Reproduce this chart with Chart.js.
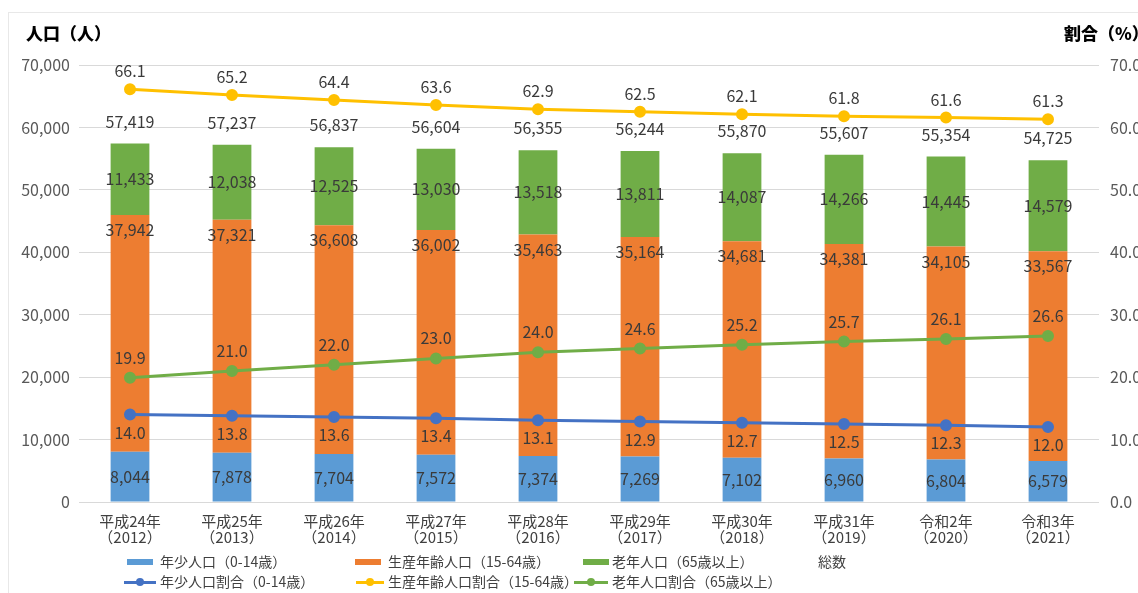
<!DOCTYPE html>
<html lang="ja">
<head>
<meta charset="utf-8">
<script src="https://cdn.jsdelivr.net/npm/chart.js@4.4.1/dist/chart.umd.min.js"></script>
<style>
  html, body { margin: 0; padding: 0; background: #fff; overflow: hidden; width: 1138px; height: 593px; }
  #wrap { position: relative; width: 1138px; height: 593px; overflow: hidden; }
  #cv { position: absolute; left: 0; top: 0; }
  #frame { position: absolute; left: 8px; top: 12px; width: 1200px; height: 600px; border: 1px solid #e8e8e8; box-sizing: border-box; pointer-events: none; }
  .title { position: absolute; font-family: "Noto Sans CJK JP", sans-serif; font-weight: 900; font-size: 17px; color: #000; white-space: nowrap; line-height: 1; }
  .lg { position: absolute; font-family: "Noto Sans CJK JP", sans-serif; font-size: 14px; color: #404040; white-space: nowrap; line-height: 1; }
  .sym { position: absolute; }
</style>
</head>
<body>
<div id="wrap">
  <canvas id="cv" width="1160" height="593" style="width:1160px;height:593px"></canvas>
  <div id="frame"></div>
  <div class="title" style="left:26px; top:24px;">人口（人）</div>
  <div class="title" style="left:1064px; top:24px;">割合（%）</div>
  <div id="legend"></div>
</div>
<script>
const categories = [
  ["平成24年", "（2012）"], ["平成25年", "（2013）"], ["平成26年", "（2014）"],
  ["平成27年", "（2015）"], ["平成28年", "（2016）"], ["平成29年", "（2017）"],
  ["平成30年", "（2018）"], ["平成31年", "（2019）"], ["令和2年", "（2020）"],
  ["令和3年", "（2021）"]
];
const youngPop   = [8044, 7878, 7704, 7572, 7374, 7269, 7102, 6960, 6804, 6579];
const workingPop = [37942, 37321, 36608, 36002, 35463, 35164, 34681, 34381, 34105, 33567];
const oldPop     = [11433, 12038, 12525, 13030, 13518, 13811, 14087, 14266, 14445, 14579];
const totalPop   = [57419, 57237, 56837, 56604, 56355, 56244, 55870, 55607, 55354, 54725];
const youngPct   = [14.0, 13.8, 13.6, 13.4, 13.1, 12.9, 12.7, 12.5, 12.3, 12.0];
const workingPct = [66.1, 65.2, 64.4, 63.6, 62.9, 62.5, 62.1, 61.8, 61.6, 61.3];
const oldPct     = [19.9, 21.0, 22.0, 23.0, 24.0, 24.6, 25.2, 25.7, 26.1, 26.6];

const legendNames = {
  young: "年少人口（0-14歳）",
  working: "生産年齢人口（15-64歳）",
  old: "老年人口（65歳以上）",
  total: "総数",
  youngPct: "年少人口割合（0-14歳）",
  workingPct: "生産年齢人口割合（15-64歳）",
  oldPct: "老年人口割合（65歳以上）"
};

const C_BLUE = "#5B9BD5", C_ORANGE = "#ED7D31", C_GREEN = "#70AD47";
const C_LBLUE = "#4472C4", C_YELLOW = "#FFC000";
const FONT = '"Noto Sans CJK JP", sans-serif';

const fmtInt = v => v.toLocaleString("en-US");
const fmtPct = v => v.toFixed(1);

const labelPlugin = {
  id: "valueLabels",
  afterDatasetsDraw(chart) {
    const ctx = chart.ctx;
    ctx.save();
    ctx.font = "16px " + FONT;
    ctx.fillStyle = "#3a3a3a";
    ctx.textAlign = "center";
    ctx.textBaseline = "middle";
    chart.data.datasets.forEach((ds, di) => {
      const meta = chart.getDatasetMeta(di);
      meta.data.forEach((el, i) => {
        const v = ds.data[i];
        let y;
        let txt;
        switch (ds.key) {
          case "young": y = (el.y + el.base) / 2; txt = fmtInt(v); break;
          case "working": y = el.y + 15; txt = fmtInt(v); break;
          case "old":
            y = (el.y + el.base) / 2; txt = fmtInt(v);
            ctx.fillText(txt, el.x, y);
            txt = fmtInt(totalPop[i]); y = el.y - 22;
            break;
          case "youngPct": y = el.y + 18; txt = fmtPct(v); break;
          case "workingPct": y = el.y - 18; txt = fmtPct(v); break;
          case "oldPct": y = el.y - 20; txt = fmtPct(v); break;
        }
        ctx.fillText(txt, el.x, y);
      });
    });
    ctx.restore();
  }
};

const barCommon = { type: "bar", yAxisID: "y", stack: "pop", order: 2, barPercentage: 0.38, categoryPercentage: 1.0, borderWidth: 0 };
const lineCommon = { type: "line", yAxisID: "y1", order: 0, borderWidth: 3, pointRadius: 4.5, pointHoverRadius: 4.5, fill: false, tension: 0 };

new Chart(document.getElementById("cv"), {
  data: {
    labels: categories,
    datasets: [
      Object.assign({}, barCommon, { key: "young", label: legendNames.young, data: youngPop, backgroundColor: C_BLUE }),
      Object.assign({}, barCommon, { key: "working", label: legendNames.working, data: workingPop, backgroundColor: C_ORANGE }),
      Object.assign({}, barCommon, { key: "old", label: legendNames.old, data: oldPop, backgroundColor: C_GREEN }),
      Object.assign({}, lineCommon, { key: "youngPct", label: legendNames.youngPct, data: youngPct, borderColor: C_LBLUE, backgroundColor: C_LBLUE }),
      Object.assign({}, lineCommon, { key: "workingPct", label: legendNames.workingPct, data: workingPct, borderColor: C_YELLOW, backgroundColor: C_YELLOW }),
      Object.assign({}, lineCommon, { key: "oldPct", label: legendNames.oldPct, data: oldPct, borderColor: C_GREEN, backgroundColor: C_GREEN })
    ]
  },
  options: {
    responsive: false,
    animation: false,
    events: [],
    layout: { padding: { top: 65, left: 0, right: 0, bottom: 0 } },
    plugins: { legend: { display: false }, tooltip: { enabled: false }, title: { display: false } },
    scales: {
      x: {
        stacked: true,
        grid: { display: false, drawTicks: false },
        border: { display: false },
        ticks: { font: { family: FONT, size: 15, lineHeight: 1.07 }, color: "#404040", padding: 11, maxRotation: 0, autoSkip: false },
        afterFit(scale) { scale.height = 91; }
      },
      y: {
        stacked: true, position: "left", min: 0, max: 70000,
        grid: { color: "#d9d9d9", lineWidth: 1, drawTicks: false },
        border: { display: false },
        ticks: { stepSize: 10000, callback: v => fmtInt(v), font: { family: FONT, size: 16 }, color: "#595959", padding: 9 },
        afterFit(scale) { scale.width = 79; }
      },
      y1: {
        stacked: false, position: "right", min: 0, max: 70,
        grid: { display: false, drawTicks: false },
        border: { display: false },
        ticks: { stepSize: 10, callback: v => fmtPct(v), font: { family: FONT, size: 16 }, color: "#595959", padding: 11 },
        afterFit(scale) { scale.width = 61; }
      }
    }
  },
  plugins: [labelPlugin]
});

// HTML legend
const lg = document.getElementById("legend");
function addText(text, x, y) {
  const t = document.createElement("div");
  t.className = "lg"; t.textContent = text;
  t.style.cssText = `left:${x}px;top:${y - 8}px;`;
  lg.appendChild(t);
}
function addBarItem(x, y, color, text, textX) {
  const s = document.createElement("div");
  s.className = "sym";
  s.style.cssText = `left:${x}px;top:${y - 3}px;width:26px;height:6px;background:${color};`;
  lg.appendChild(s);
  addText(text, textX, y);
}
function addLineItem(x, y, w, color, text, textX) {
  const s = document.createElement("div");
  s.className = "sym";
  s.style.cssText = `left:${x}px;top:${y - 1.5}px;width:${w}px;height:3px;background:${color};`;
  lg.appendChild(s);
  const d = document.createElement("div");
  d.className = "sym";
  d.style.cssText = `left:${x + w / 2 - 4}px;top:${y - 4}px;width:8px;height:8px;border-radius:50%;background:${color};`;
  lg.appendChild(d);
  addText(text, textX, y);
}
addBarItem(127, 562, C_BLUE, legendNames.young, 160);
addBarItem(355, 562, C_ORANGE, legendNames.working, 388);
addBarItem(583, 562, C_GREEN, legendNames.old, 612);
addText(legendNames.total, 818, 562);
addLineItem(124, 582, 32, C_LBLUE, legendNames.youngPct, 160);
addLineItem(356, 582, 28, C_YELLOW, legendNames.workingPct, 388);
addLineItem(574, 582, 34, C_GREEN, legendNames.oldPct, 612);
</script>
</body>
</html>
